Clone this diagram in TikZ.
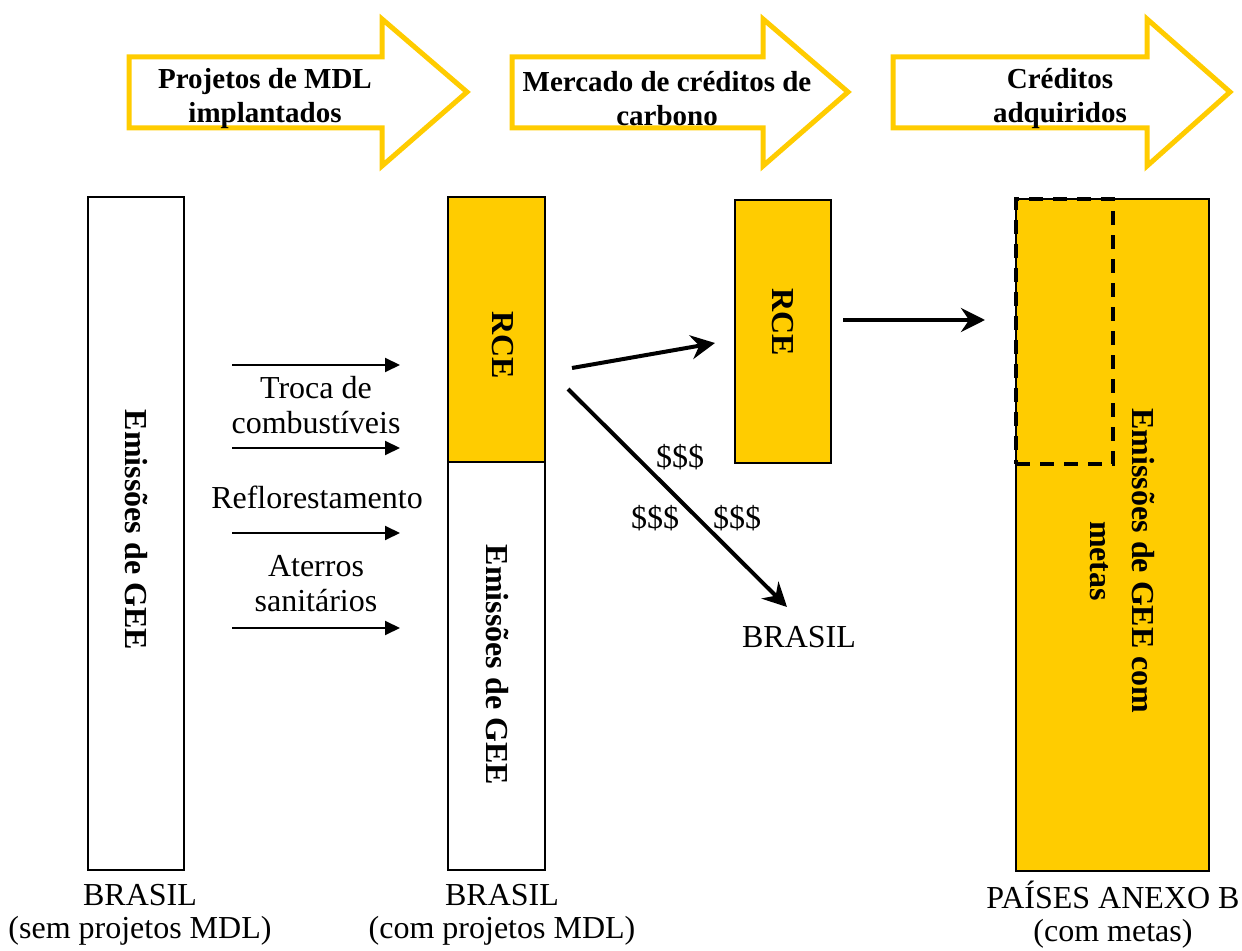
\documentclass[tikz,border=0pt]{standalone}
\usepackage{fontspec}
\setmainfont{Liberation Serif}
\usetikzlibrary{arrows.meta}
\definecolor{gold}{HTML}{FFCC00}

% Block arrow used for the three stage headings
\newcommand{\bannerarrow}[3]{%
  \draw[banner] (#1,57) -- (#2,57) -- (#2,19) -- (#3,92) -- (#2,166) -- (#2,128) -- (#1,128) -- cycle;}

\begin{document}
\begin{tikzpicture}[x=0.5pt,y=-0.5pt,
  banner/.style={draw=gold,line width=2.5pt,fill=white,line join=miter},
  headtext/.style={font=\bfseries\fontsize{14.5}{17}\selectfont,align=center,inner sep=0pt},
  plain/.style={font=\fontsize{16}{17.5}\selectfont,align=center,inner sep=0pt},
  caption/.style={font=\fontsize{16}{16.5}\selectfont,align=center,inner sep=0pt},
  vbold/.style={font=\bfseries\fontsize{16}{21}\selectfont,align=center,inner sep=0pt,rotate=-90},
  column/.style={draw=black,line width=1pt,inner sep=0pt,outer sep=0pt},
  smallarrow/.style={line width=1pt,-{Triangle[length=7.5pt,width=7pt]}},
  bigarrow/.style={line width=2pt,-{Stealth[length=12pt,width=12pt,inset=4pt]}},
  creditbox/.style={draw=black,line width=2pt,dash pattern=on 7pt off 5pt}
]
\useasboundingbox (0,0) rectangle (1242,951);

% stage headings
\bannerarrow{129}{382}{467}
\bannerarrow{512}{763}{848}
\bannerarrow{893}{1147}{1230}
\node[headtext] (h1) at (265,99) {Projetos de MDL\\implantados};
\node[headtext] (h2) at (667,99) {Mercado de créditos de\\carbono};
\node[headtext] (h3) at (1060,99) {Créditos\\adquiridos};

% Brazil without CDM projects
\node[column,fill=white,minimum width=48pt,minimum height=336.5pt] (semcol) at (136,533.5) {};
\node[vbold] (semtxt) at (136,530) {Emissões de GEE};

% Brazil with CDM projects
\node[column,fill=gold,minimum width=48.5pt,minimum height=132.5pt] (rce1) at (496.5,329.5) {};
\node[column,fill=white,minimum width=48.5pt,minimum height=204pt] (comcol) at (496.5,666) {};
\node[vbold] (rce1txt) at (503,345) {RCE};
\node[vbold] (comtxt) at (497,665) {Emissões de GEE};

% credits traded on the market
\node[column,fill=gold,minimum width=48pt,minimum height=131.5pt] (rce2) at (783,331.5) {};
\node[vbold] (rce2txt) at (783,322) {RCE};

% Annex B countries
\node[column,fill=gold,minimum width=96.5pt,minimum height=336pt] (anexo) at (1112.5,535) {};
\node[vbold] (anexotxt) at (1122,561) {Emissões de GEE com\\metas};
\node[creditbox,inner sep=0pt,minimum width=48.5pt,minimum height=132.5pt] (credit) at (1064.5,331.5) {};

% project types
\coordinate (a1s) at (232,365); \coordinate (a1e) at (400,365);
\coordinate (a2s) at (232,448); \coordinate (a2e) at (400,448);
\coordinate (a3s) at (232,533); \coordinate (a3e) at (400,533);
\coordinate (a4s) at (232,628); \coordinate (a4e) at (400,628);
\draw[smallarrow] (a1s) -- (a1e);
\draw[smallarrow] (a2s) -- (a2e);
\draw[smallarrow] (a3s) -- (a3e);
\draw[smallarrow] (a4s) -- (a4e);
\node[plain] (troca) at (316,405) {Troca de\\combustíveis};
\node[plain] (reflo) at (317,497) {Reflorestamento};
\node[plain] (aterro) at (316,584) {Aterros\\sanitários};

% market flows
\coordinate (m1s) at (572,368); \coordinate (m1e) at (715,343);
\coordinate (m2s) at (568,389); \coordinate (m2e) at (787,607);
\coordinate (m3s) at (843,320); \coordinate (m3e) at (985,320);
\draw[bigarrow] (m1s) -- (m1e);
\draw[bigarrow] (m2s) -- (m2e);
\draw[bigarrow] (m3s) -- (m3e);
\node[plain] (d1) at (680,457) {\$\$\$};
\node[plain] (d2) at (655,518) {\$\$\$};
\node[plain] (d3) at (737,518) {\$\$\$};
\node[plain] (brmkt) at (799,637) {BRASIL};

% column captions
\node[caption] (cap1) at (140,915) {BRASIL\\(sem projetos MDL)};
\node[caption] (cap2) at (502,915) {BRASIL\\(com projetos MDL)};
\node[caption] (cap3) at (1113,915) {PAÍSES ANEXO B\\(com metas)};
\end{tikzpicture}
\end{document}
